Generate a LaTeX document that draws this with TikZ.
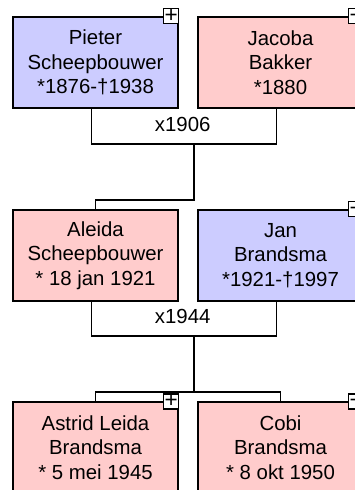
\documentclass[tikz,border=0pt]{standalone}
\usepackage{fontspec}
\setmainfont{Liberation Sans}
\definecolor{manblue}{HTML}{CCCCFF}
\definecolor{womanpink}{HTML}{FFCCCC}
\begin{document}
\begin{tikzpicture}[
		person/.style={draw, line width=1pt, minimum width=4.125cm, minimum height=2.275cm, inner sep=0pt, align=center, font=\fontsize{14.5}{17.5}\selectfont},
		man/.style={person, fill=manblue},
		woman/.style={person, fill=womanpink},
		plusbox/.style={draw, fill=white, line width=1pt, minimum size=0.375cm, inner sep=0pt, font=\fontsize{16}{16}\selectfont},
		link/.style={line width=0.8pt},
		year/.style={font=\fontsize{14.5}{17.5}\selectfont}]
		\useasboundingbox (0,0) rectangle (8.875,-12.25);

		\node[man] (pieter) at (2.3875,-1.5625) {Pieter\\Scheepbouwer\\*1876-†1938};
		\node[woman] (jacoba) at (7.0125,-1.5625) {Jacoba\\Bakker\\*1880};

		\node[woman] (aleida) at (2.3875,-6.3875) {Aleida\\Scheepbouwer\\* 18 jan 1921};
		\node[man] (jan) at (7.0125,-6.3875) {Jan\\Brandsma\\*1921-†1997};

		\node[woman] (astrid) at (2.3875,-11.1875) {Astrid Leida\\Brandsma\\* 5 mei 1945};
		\node[woman] (cobi) at (7.0125,-11.1875) {Cobi\\Brandsma\\* 8 okt 1950};

		\coordinate (wed1) at (4.85,-3.6);
		\node[year] (x1906) at (4.567,-3.1) {x1906};
		\draw[link] ([xshift=-0.1cm]pieter.south) |- (wed1) -| ([xshift=-0.1cm]jacoba.south);
		\draw[link] (wed1) -- ++(0,-1.4) -| (aleida.north);

		\coordinate (wed2) at (4.85,-8.4);
		\node[year] (x1944) at (4.567,-7.9) {x1944};
		\draw[link] ([xshift=-0.1cm]aleida.south) |- (wed2) -| ([xshift=-0.1cm]jan.south);
		\coordinate (kids) at (4.85,-9.8);
		\draw[link] (wed2) -- (kids);
		\draw[link] (astrid.north) |- (kids) -| (cobi.north);

		\node[plusbox] (pieterplus) at ([xshift=-0.1875cm]pieter.north east) {+};
		\node[plusbox] (jacobaplus) at ([xshift=-0.1875cm]jacoba.north east) {+};
		\node[plusbox] (janplus) at ([xshift=-0.1875cm]jan.north east) {+};
		\node[plusbox] (astridplus) at ([xshift=-0.1875cm]astrid.north east) {+};
		\node[plusbox] (cobiplus) at ([xshift=-0.1875cm]cobi.north east) {+};
	\end{tikzpicture}
\end{document}
